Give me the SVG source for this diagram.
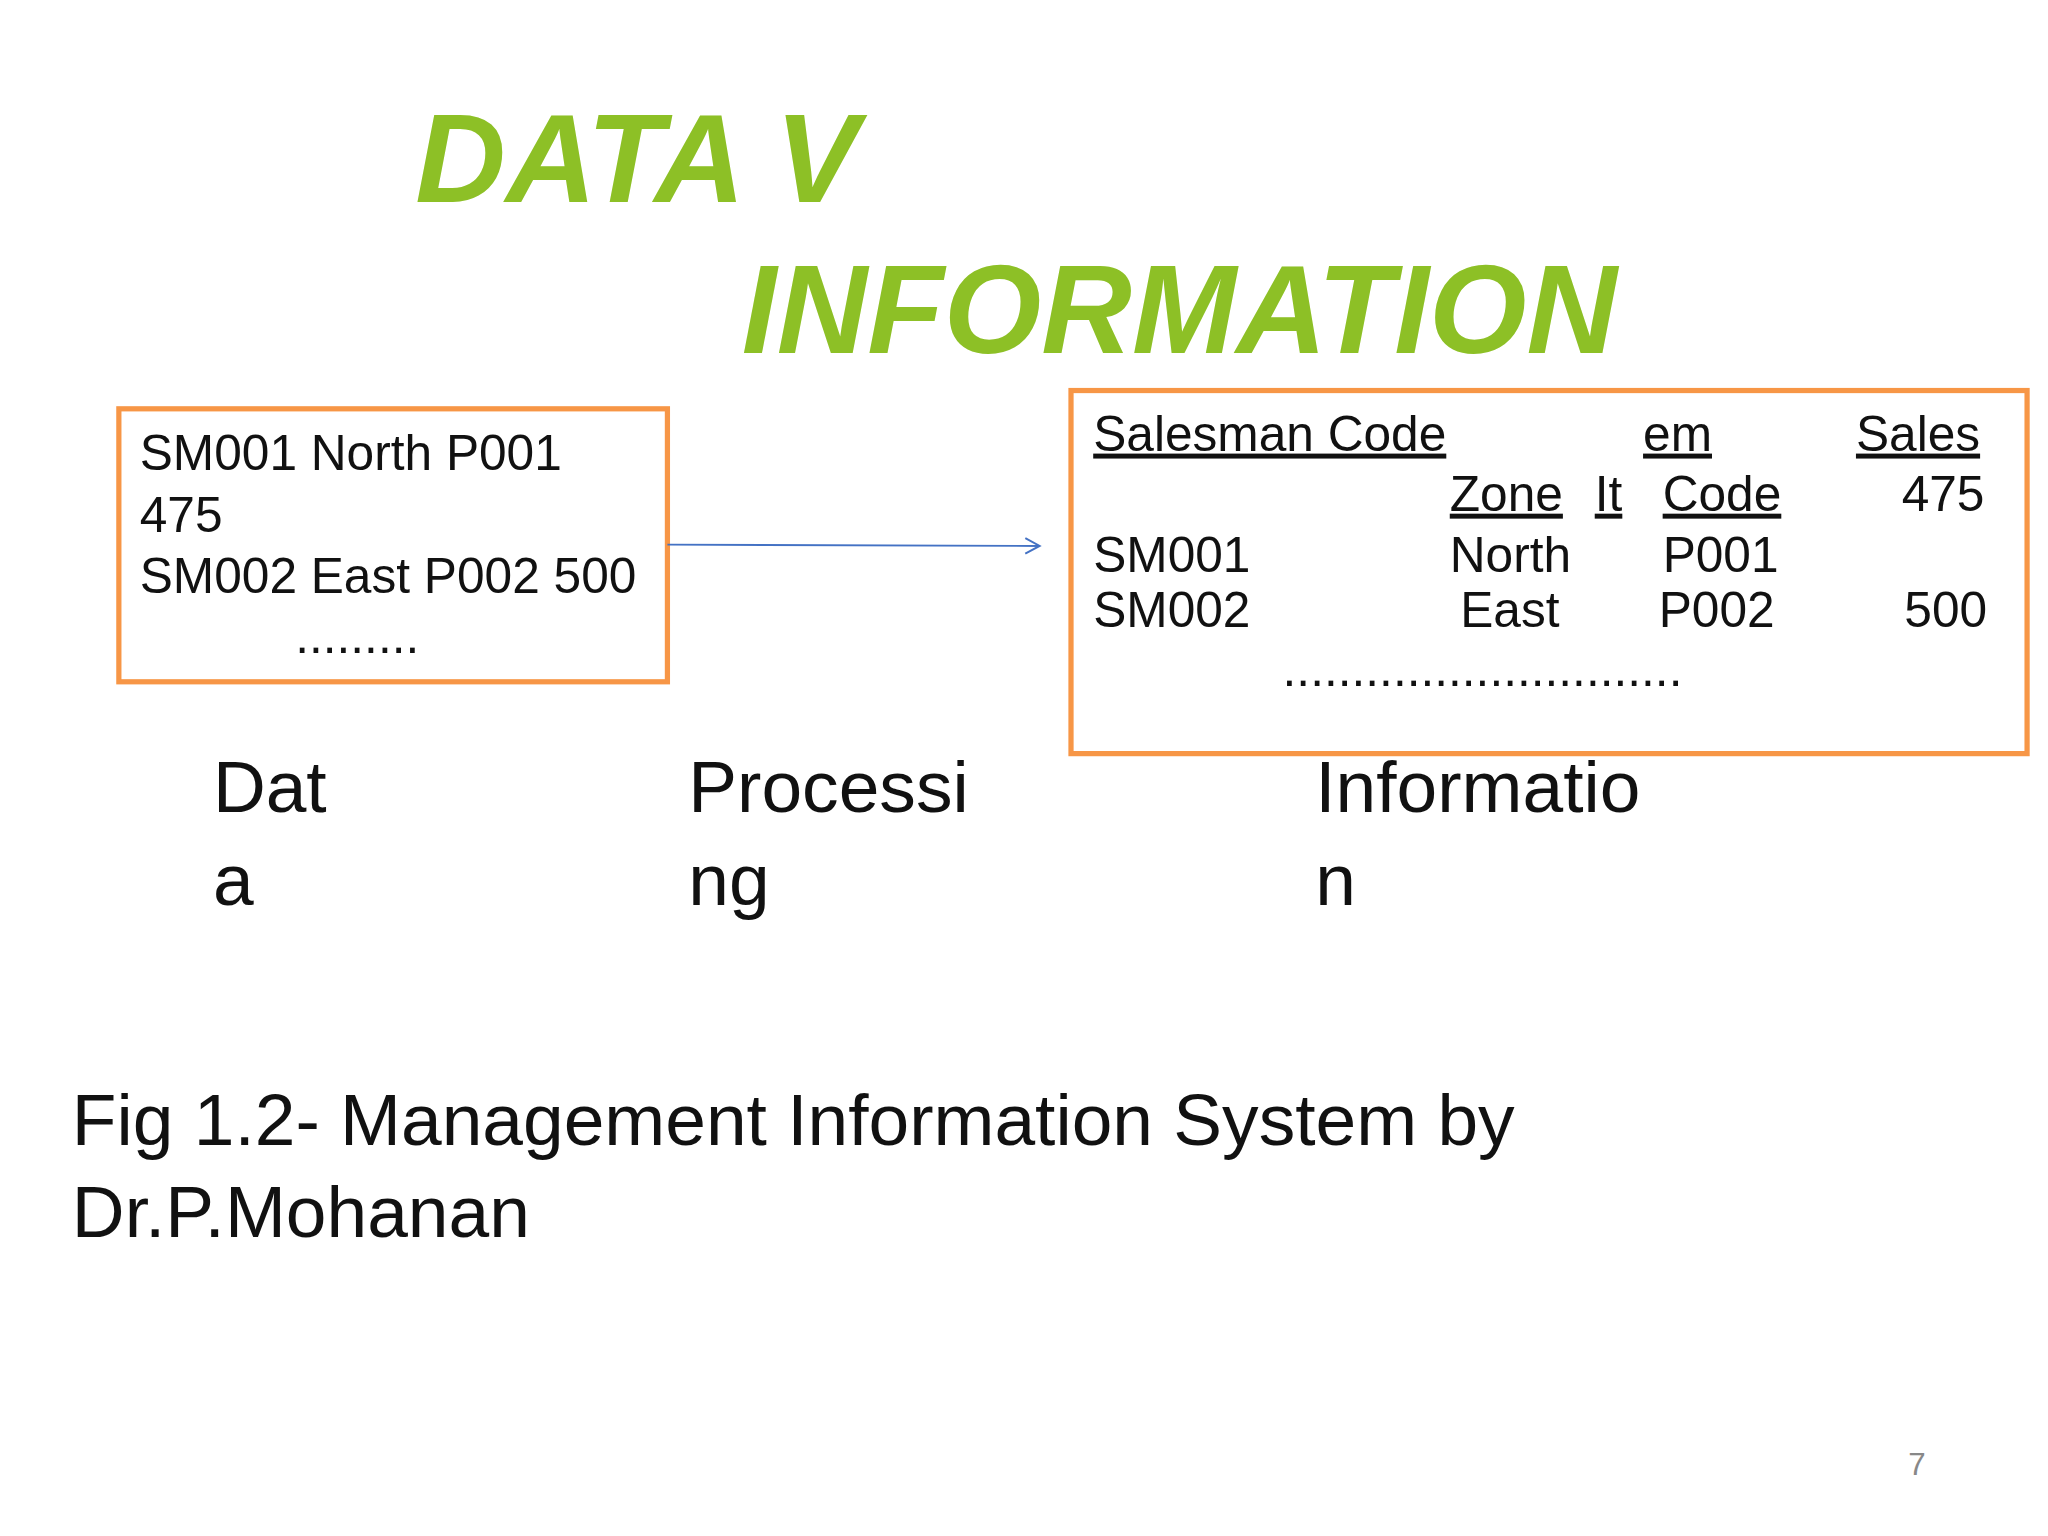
<svg xmlns="http://www.w3.org/2000/svg" width="2048" height="1536" viewBox="0 0 2048 1536">
<style>
.t{font-family:"Liberation Sans",Arial,sans-serif;fill:#111}
.b{font-size:38px}
.l{font-size:56px}
.g{font-family:"Liberation Sans",Arial,sans-serif;font-weight:bold;font-style:italic;fill:#8DC026;font-size:96px}
.box{fill:none;stroke:#F79646;stroke-width:4}
.u{text-decoration:underline}
</style>
<defs><marker id="ah" markerWidth="14" markerHeight="14" refX="12" refY="7" orient="auto" markerUnits="userSpaceOnUse"><path d="M1,1 L12,7 L1,13" fill="none" stroke="#4472C4" stroke-width="1.5"/></marker></defs>
<rect width="2048" height="1536" fill="#fff"/>
<g transform="scale(1.3061)">
<g id="title"><text class="g" x="318" y="155">DATA V</text><text class="g" x="568" y="270">INFORMATION</text></g>
<g id="data">
<rect class="box" x="91" y="313" width="420" height="209"/>
<text class="t b" x="107" y="360">SM001 North P001</text>
<text class="t b" x="107" y="407">475</text>
<text class="t b" x="107" y="454">SM002 East P002 500</text>
<text class="t b" x="226" y="500">.........</text>
</g>
<g id="information">
<rect class="box" x="820" y="299" width="732" height="278"/>
<text class="t b u" x="837" y="345">Salesman Code </text>
<text class="t b u" x="1258" y="345">em</text>
<text class="t b u" x="1421" y="345">Sales</text>
<text class="t b u" x="1110" y="391">Zone</text>
<text class="t b u" x="1221" y="391">It</text>
<text class="t b u" x="1273" y="391">Code</text>
<text class="t b" x="1456" y="391">475</text>
<text class="t b" x="837" y="438">SM001</text>
<text class="t b" x="1110" y="438">North</text>
<text class="t b" x="1273" y="438">P001</text>
<text class="t b" x="837" y="480">SM002</text>
<text class="t b" x="1118" y="480">East</text>
<text class="t b" x="1270" y="480">P002</text>
<text class="t b" x="1458" y="480">500</text>
<text class="t b" x="982" y="525">.............................</text>
</g>
<g id="connectors"><line x1="511" y1="417" x2="796" y2="418" stroke="#4472C4" stroke-width="1.5" marker-end="url(#ah)"/></g>
<g id="labels">
<text class="t l" x="163" y="622">Dat</text><text class="t l" x="163" y="693">a</text>
<text class="t l" x="527" y="622">Processi</text><text class="t l" x="527" y="693">ng</text>
<text class="t l" x="1007" y="622">Informatio</text><text class="t l" x="1007" y="693">n</text>
<text class="t l" x="55" y="877">Fig 1.2- Management Information System by</text>
<text class="t l" x="55" y="947">Dr.P.Mohanan</text>
<text x="1461" y="1129" font-family="Liberation Sans,Arial,sans-serif" font-size="24" fill="#888">7</text>
</g>
</g>
</svg>
